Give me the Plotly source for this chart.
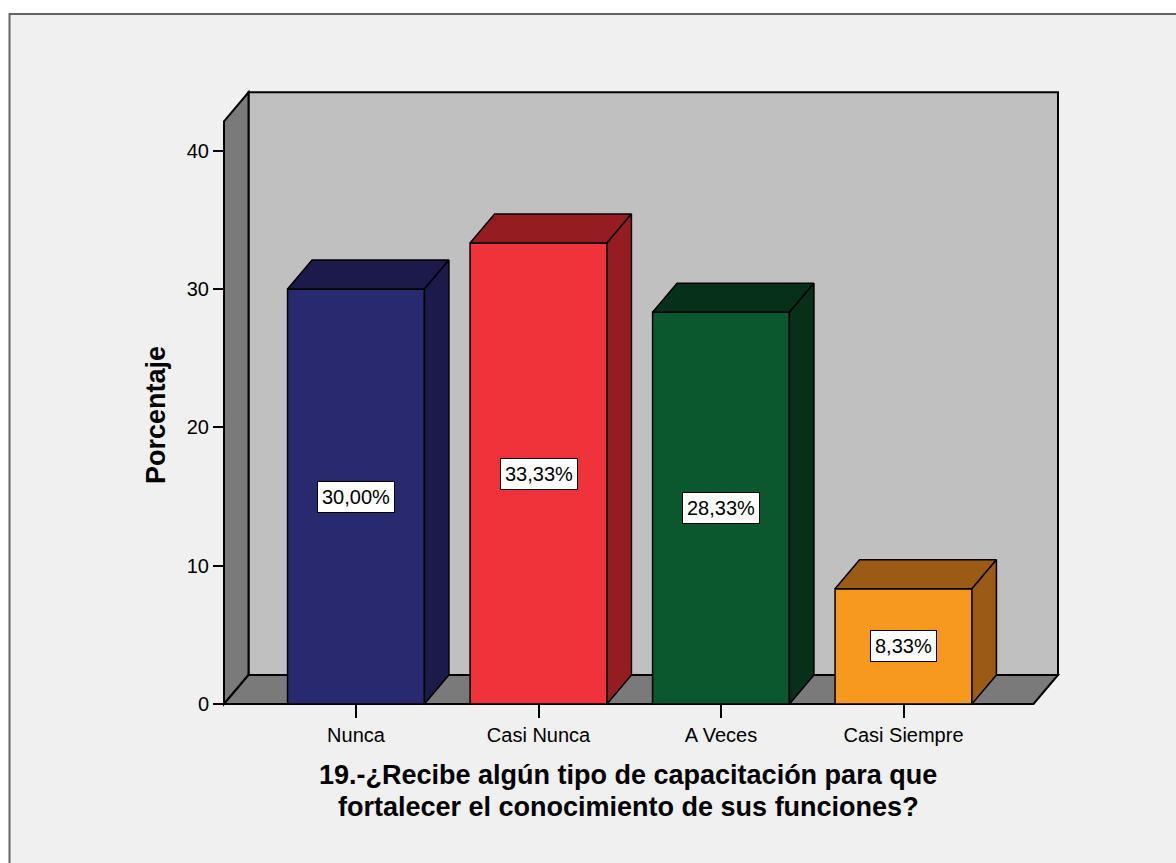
import plotly.graph_objects as go

categories = ["Nunca", "Casi Nunca", "A Veces", "Casi Siempre"]
percentages = [30.00, 33.33, 28.33, 8.33]
value_labels = ["30,00%", "33,33%", "28,33%", "8,33%"]
y_ticks = [0, 10, 20, 30, 40]
front_colors = ["#29296f", "#f0323a", "#0b572e", "#f7991e"]
shade_colors = ["#1b1a4a", "#951d22", "#07301b", "#9c5b14"]
x_title = ["19.-¿Recibe algún tipo de capacitación para que",
           "fortalecer el conocimiento de sus funciones?"]
y_title = "Porcentaje"

W, H = 1176, 863
ML, MR, MT, MB = 216, 110, 84, 151
PW, PH = W - ML - MR, H - MT - MB
CX0, CSTEP = 356.0, 182.5      # pixel of category 0, pixels per category
Y0PX, YSTEP = 704.0, 13.83     # pixel of value 0, pixels per unit

def xd(px):
    return (px - CX0) / CSTEP

def yd(py):
    return (Y0PX - py) / YSTEP

def xp(px):
    return (px - ML) / PW

def yp(py):
    return (H - MB - py) / PH

xr = [xd(ML), xd(ML + PW)]
yr = [yd(H - MB), yd(MT)]

bw = 0.75
dx = 24.5 / CSTEP
dy = 29.0 / YSTEP
wx0, wx1 = xd(224), xd(1058)
wtop = yd(92.3)

xs = list(range(len(categories)))

fig = go.Figure()
fig.add_trace(go.Bar(
    x=xs, y=percentages, width=bw,
    marker=dict(color=front_colors, line=dict(color="black", width=1.5)),
    hoverinfo="skip", showlegend=False,
))
for i, v in enumerate(percentages):
    l, r = i - bw / 2, i + bw / 2
    fig.add_trace(go.Scatter(
        x=[l, l + dx, r + dx, r, l], y=[v, v + dy, v + dy, v, v],
        mode="lines", fill="toself", fillcolor=shade_colors[i],
        line=dict(color="black", width=1.5), hoverinfo="skip", showlegend=False))
    fig.add_trace(go.Scatter(
        x=[r, r, r + dx, r + dx, r], y=[0, v, v + dy, dy, 0],
        mode="lines", fill="toself", fillcolor=shade_colors[i],
        line=dict(color="black", width=1.5), hoverinfo="skip", showlegend=False))

shapes = [
    dict(type="rect", xref="paper", yref="paper",
         x0=xp(9.5), x1=xp(1190), y0=yp(880), y1=yp(14),
         fillcolor="#f0f0f0", line=dict(color="#646464", width=2), layer="below"),
    dict(type="path", xref="x", yref="y",
         path=f"M{wx0+dx},{dy} L{wx1},{dy} L{wx1},{wtop} L{wx0+dx},{wtop} Z",
         fillcolor="#c0c0c0", line=dict(color="black", width=2), layer="below"),
    dict(type="path", xref="x", yref="y",
         path=f"M{wx0},0 L{wx0},{wtop-dy} L{wx0+dx},{wtop} L{wx0+dx},{dy} Z",
         fillcolor="#7a7a7a", line=dict(color="black", width=2), layer="below"),
    dict(type="path", xref="x", yref="y",
         path=f"M{wx0},0 L{wx0+dx},{dy} L{wx1},{dy} L{wx1-dx},0 Z",
         fillcolor="#7a7a7a", line=dict(color="black", width=2), layer="below"),
]

annotations = []
for i, (v, t) in enumerate(zip(percentages, value_labels)):
    annotations.append(dict(
        x=i, y=v / 2, xref="x", yref="y", text=t, showarrow=False,
        font=dict(family="Liberation Sans, Arial", size=20, color="black"),
        bgcolor="white", bordercolor="black", borderwidth=1, borderpad=4))
for k, line in enumerate(x_title):
    annotations.append(dict(
        x=xp(628), y=yp(775 + 32 * k), xref="paper", yref="paper",
        text=f"<b>{line}</b>", showarrow=False, xanchor="center", yanchor="middle",
        font=dict(family="Liberation Sans, Arial", size=27, color="black")))
annotations.append(dict(
    x=xp(156), y=yp(415), xref="paper", yref="paper", text=f"<b>{y_title}</b>",
    textangle=-90, showarrow=False, xanchor="center", yanchor="middle",
    font=dict(family="Liberation Sans, Arial", size=27, color="black")))

fig.update_layout(
    width=W, height=H,
    margin=dict(l=ML, r=MR, t=MT, b=MB, pad=0),
    paper_bgcolor="white", plot_bgcolor="rgba(0,0,0,0)",
    shapes=shapes, annotations=annotations, showlegend=False,
    xaxis=dict(range=xr, anchor="free", position=yp(704), tickvals=xs,
               ticktext=categories, ticks="outside", ticklen=13, tickwidth=1.5,
               tickcolor="black", showgrid=False, zeroline=False, showline=False,
               tickfont=dict(family="Liberation Sans, Arial", size=20, color="black"),
               fixedrange=True),
    yaxis=dict(range=yr, anchor="free", position=xp(224), tickvals=y_ticks,
               ticks="outside", ticklen=11, tickwidth=1.5, tickcolor="black",
               showgrid=False, zeroline=False, showline=False,
               tickfont=dict(family="Liberation Sans, Arial", size=20, color="black"),
               fixedrange=True),
)

fig.write_html("out.html")
